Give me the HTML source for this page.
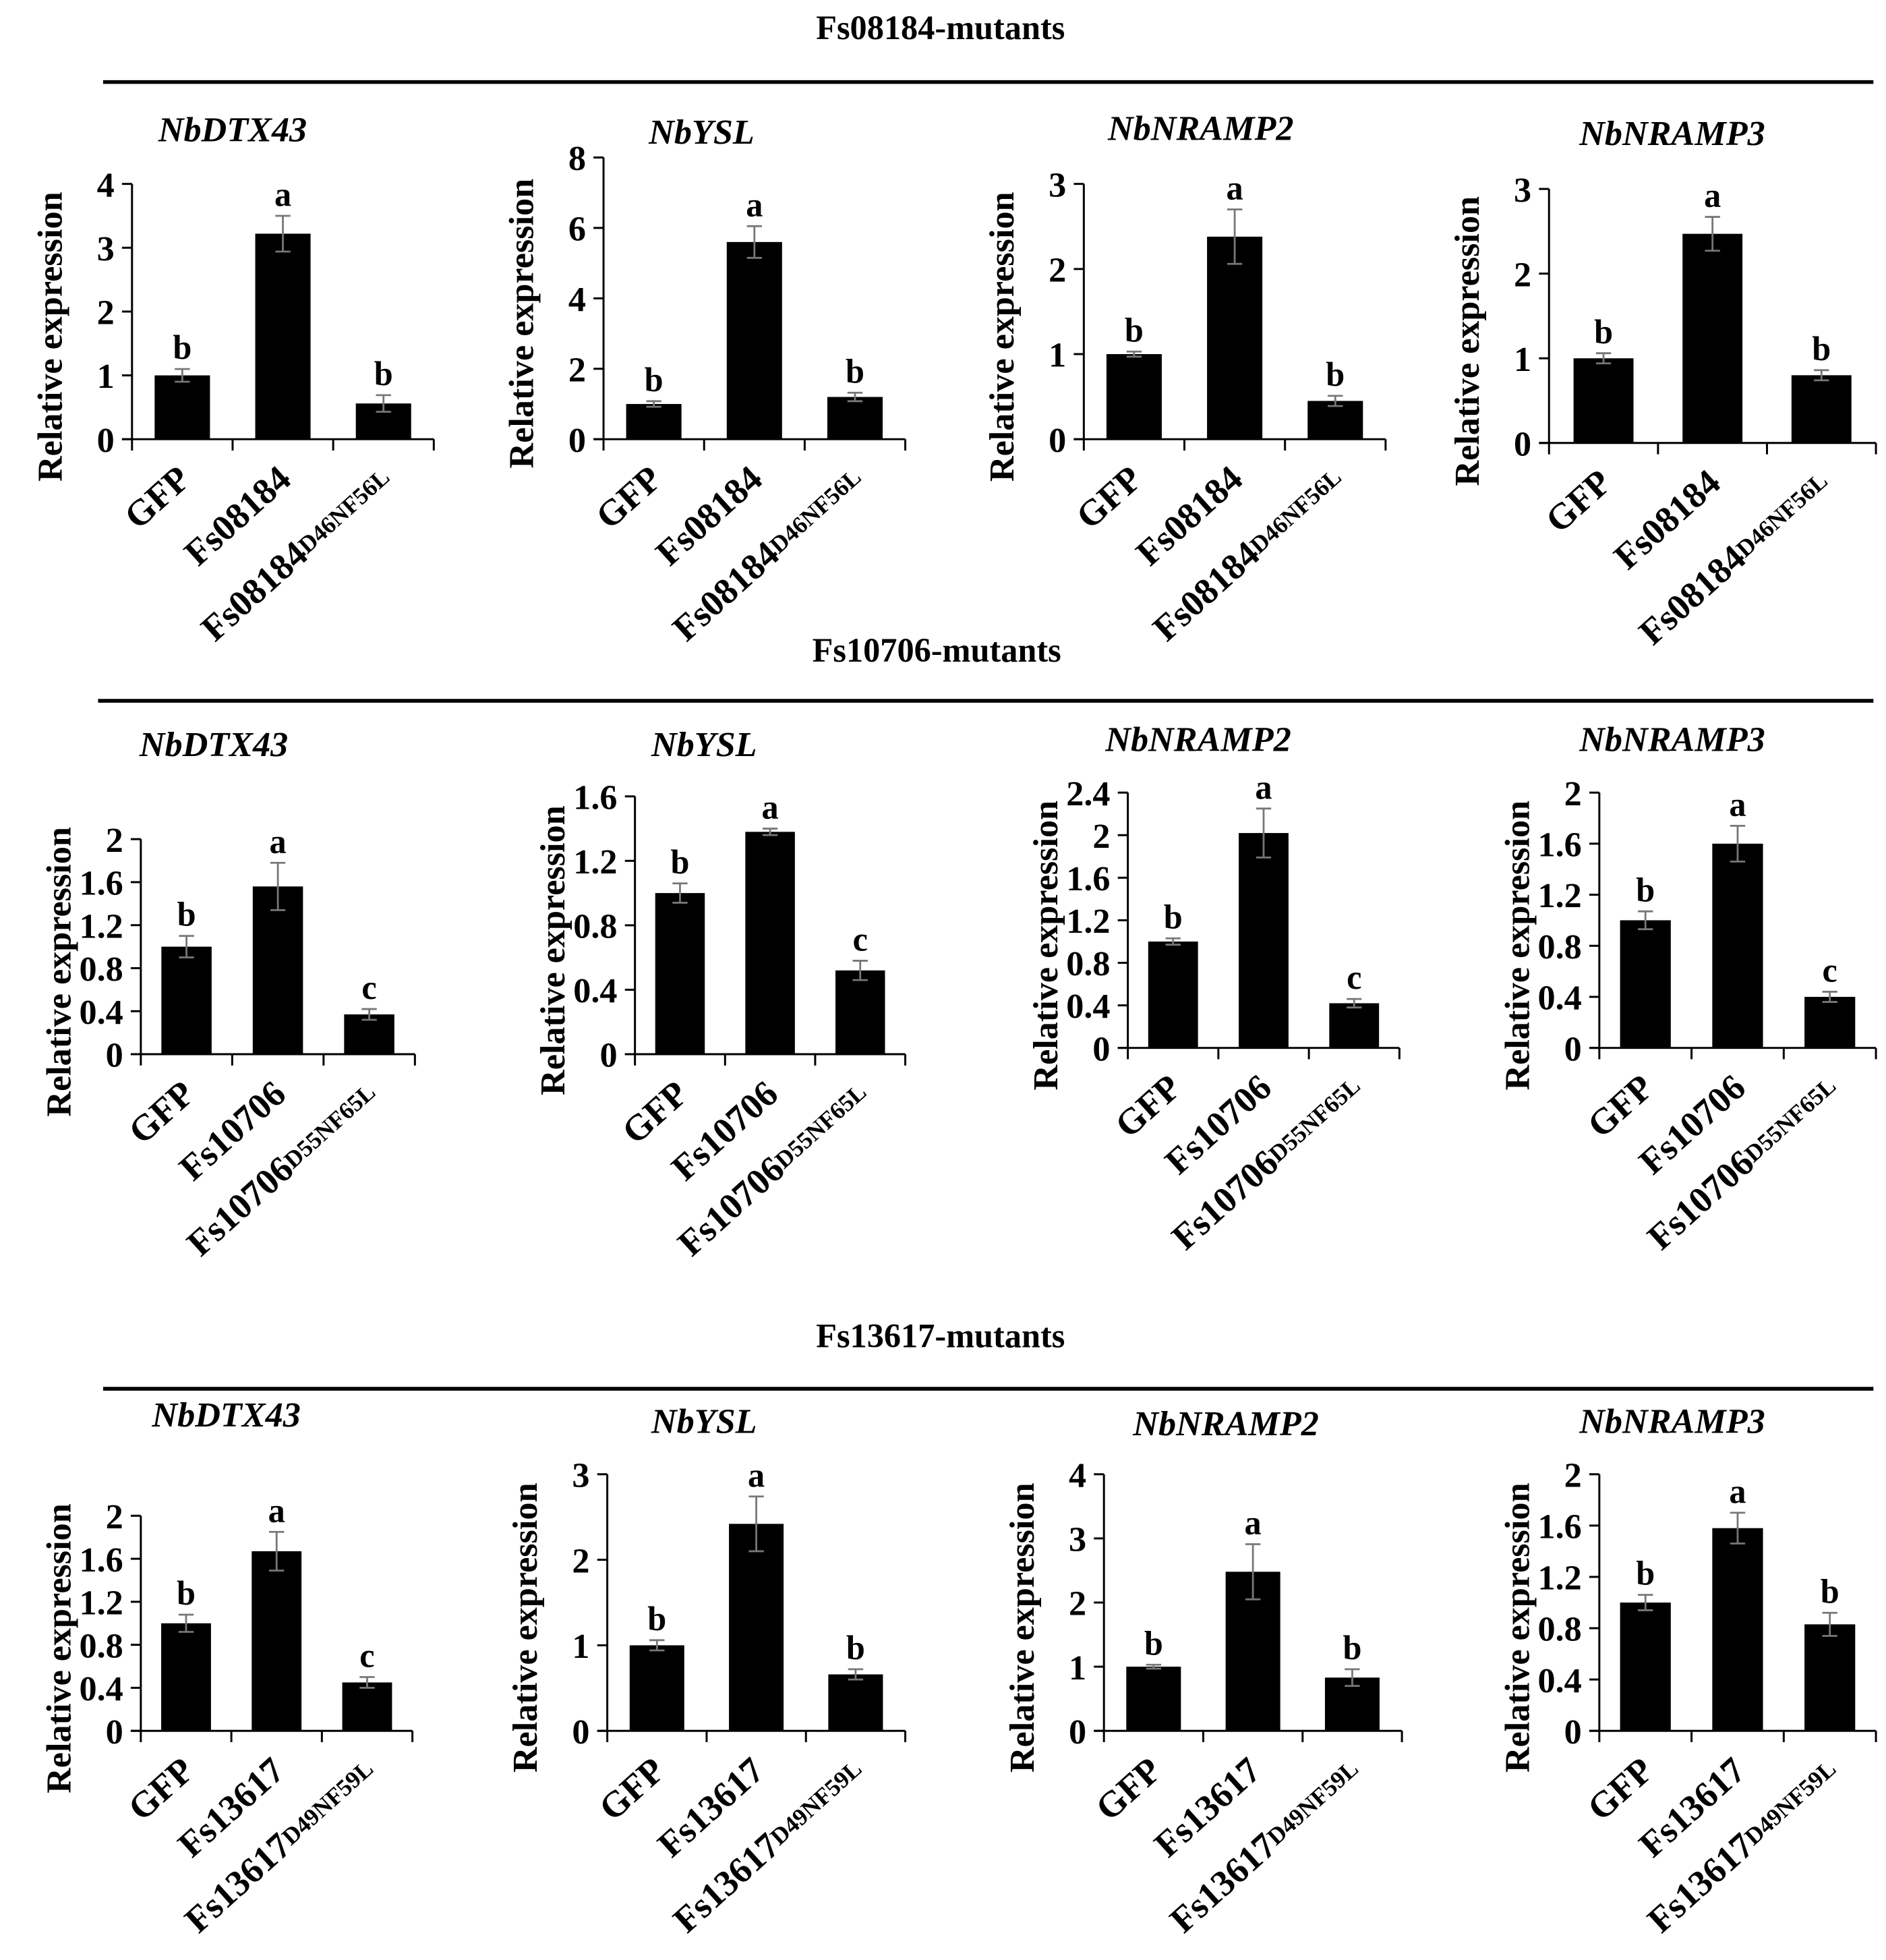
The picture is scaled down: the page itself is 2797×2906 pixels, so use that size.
<!DOCTYPE html>
<html><head><meta charset="utf-8">
<style>
html,body{margin:0;padding:0;background:#fff;}
svg{display:block;font-family:"Liberation Serif",serif;}
</style></head>
<body>
<svg id="fig" width="2797" height="2906" viewBox="0 0 1500 1558" xmlns="http://www.w3.org/2000/svg">
<g>
<text x="748" y="31" text-anchor="middle" font-size="27" font-weight="bold">Fs08184-mutants</text>
<line x1="82" y1="65" x2="1490" y2="65" stroke="#000" stroke-width="3"/></g>
<g>
<text x="745" y="526" text-anchor="middle" font-size="27" font-weight="bold">Fs10706-mutants</text>
<line x1="78" y1="557" x2="1490" y2="557" stroke="#000" stroke-width="3"/></g>
<g>
<text x="748" y="1071" text-anchor="middle" font-size="27" font-weight="bold">Fs13617-mutants</text>
<line x1="82" y1="1104" x2="1490" y2="1104" stroke="#000" stroke-width="3"/></g>
</svg>
<script>
// ---- data ----
const titles = ["NbDTX43","NbYSL","NbNRAMP2","NbNRAMP3","NbDTX43","NbYSL","NbNRAMP2","NbNRAMP3","NbDTX43","NbYSL","NbNRAMP2","NbNRAMP3"];
const strains = ["Fs08184","Fs08184","Fs08184","Fs08184","Fs10706","Fs10706","Fs10706","Fs10706","Fs13617","Fs13617","Fs13617","Fs13617"];
const mutations = ["D46NF56L","D46NF56L","D46NF56L","D46NF56L","D55NF65L","D55NF65L","D55NF65L","D55NF65L","D49NF59L","D49NF59L","D49NF59L","D49NF59L"];
const values = [[1.0,3.22,0.56],[1.0,5.6,1.2],[1.0,2.38,0.45],[1.0,2.47,0.8],
                [1.0,1.56,0.37],[1.0,1.38,0.52],[1.0,2.02,0.42],[1.0,1.6,0.4],
                [1.0,1.67,0.45],[1.0,2.42,0.66],[1.0,2.48,0.83],[1.0,1.58,0.83]];
const errors = [[0.1,0.28,0.13],[0.08,0.45,0.12],[0.03,0.32,0.06],[0.06,0.2,0.06],
                [0.1,0.22,0.05],[0.06,0.02,0.06],[0.03,0.23,0.04],[0.07,0.14,0.04],
                [0.08,0.18,0.05],[0.06,0.32,0.06],[0.03,0.43,0.13],[0.06,0.12,0.09]];
const letters = [["b","a","b"],["b","a","b"],["b","a","b"],["b","a","b"],
                 ["b","a","c"],["b","a","c"],["b","a","c"],["b","a","c"],
                 ["b","a","c"],["b","a","b"],["b","a","b"],["b","a","b"]];
const yMax = [4,8,3,3,2,1.6,2.4,2,2,3,4,2];
const yStep = [1,2,1,1,0.4,0.4,0.4,0.4,0.4,1,1,0.4];
// ---- layout (pixels) ----
const layout = [
 {x:105,x2:345,y0:349,yt:146,tx:185,ty:112},
 {x:480,x2:720,y0:349,yt:125,tx:558,ty:114},
 {x:862,x2:1102,y0:349,yt:146,tx:955,ty:111},
 {x:1232,x2:1492,y0:352,yt:150,tx:1330,ty:115},
 {x:112,x2:330,y0:838,yt:667,tx:170,ty:601},
 {x:505,x2:720,y0:838,yt:633,tx:560,ty:601},
 {x:897,x2:1113,y0:833,yt:630,tx:953,ty:597},
 {x:1272,x2:1492,y0:833,yt:630,tx:1330,ty:597},
 {x:112,x2:328,y0:1376,yt:1205,tx:180,ty:1134},
 {x:483,x2:720,y0:1376,yt:1172,tx:560,ty:1139},
 {x:878,x2:1115,y0:1376,yt:1172,tx:975,ty:1141},
 {x:1272,x2:1492,y0:1376,yt:1172,tx:1330,ty:1139}];
const NS="http://www.w3.org/2000/svg";
const svg=document.getElementById('fig');
function mk(tag,attrs,parent){const e=document.createElementNS(NS,tag);for(const k in attrs)e.setAttribute(k,attrs[k]);parent.appendChild(e);return e;}
function fmt(v){return (Math.round(v*10)/10).toString();}
layout.forEach((L,p)=>{
  const g=mk('g',{},svg);
  
  
  const ys=v=>L.y0-(v/yMax[p])*(L.y0-L.yt);
  const cw=(L.x2-L.x)/3;
  const xs=i=>L.x+cw*(i+0.5);
  const t=mk('text',{x:L.tx,y:L.ty,'text-anchor':'middle','font-size':28,'font-weight':'bold','font-style':'italic'},g);
  
  
  t.textContent=titles[p];
  const ya=mk('line',{x1:L.x,y1:L.yt,x2:L.x,y2:L.y0+9,stroke:'#000','stroke-width':1.6},g);
  
  
  const xa=mk('line',{x1:L.x-8,y1:L.y0,x2:L.x2,y2:L.y0,stroke:'#000','stroke-width':1.6},g);
  
  
  for(let i=1;i<=3;i++){mk('line',{x1:L.x+cw*i,y1:L.y0,x2:L.x+cw*i,y2:L.y0+9,stroke:'#000','stroke-width':1.6},g);}
  const n=Math.round(yMax[p]/yStep[p]);
  for(let i=0;i<=n;i++){
    const v=i*yStep[p],y=ys(v);
    mk('line',{x1:L.x-8,y1:y,x2:L.x,y2:y,stroke:'#000','stroke-width':1.6},g);
    const tl=mk('text',{x:L.x-14,y:y+10,'text-anchor':'end','font-size':28,'font-weight':'bold'},g);
    
    
    tl.textContent=fmt(v);
  }
  const cy=(L.yt+L.y0)/2+20, cx=L.x-56;
  const yt=mk('text',{x:cx,y:cy,'text-anchor':'middle','font-size':28,'font-weight':'bold',transform:`rotate(-90 ${cx} ${cy})`},g);
  
  
  yt.textContent='Relative expression';
  const bw=cw*0.55;
  values[p].forEach((v,i)=>{
    const b=mk('rect',{x:xs(i)-bw/2,y:ys(v),width:bw,height:L.y0-ys(v),fill:'#000'},g);
    
    
    const e=errors[p][i],yh=ys(v+e),yl=ys(v-e);
    const eb=mk('path',{d:`M${xs(i)} ${yh}V${yl}M${xs(i)-6} ${yh}H${xs(i)+6}M${xs(i)-6} ${yl}H${xs(i)+6}`,stroke:'#777','stroke-width':1.5,fill:'none'},g);
    
    
    const lt=mk('text',{x:xs(i),y:yh-8,'text-anchor':'middle','font-size':27,'font-weight':'bold'},g);
    
    
    lt.textContent=letters[p][i];
    const lx=xs(i)+8, ly=L.y0+34;
    const xl=mk('text',{x:lx,y:ly,'text-anchor':'end','font-size':29,'font-weight':'bold',transform:`rotate(-42 ${lx} ${ly})`},g);
    
    
    if(i===0) xl.textContent='GFP';
    else if(i===1) xl.textContent=strains[p];
    else{
      const a=mk('tspan',{},xl);a.textContent=strains[p];
      const s=mk('tspan',{'font-size':19,dy:-3},xl);s.textContent=mutations[p];
    }
  });
});
</script>
</body></html>
